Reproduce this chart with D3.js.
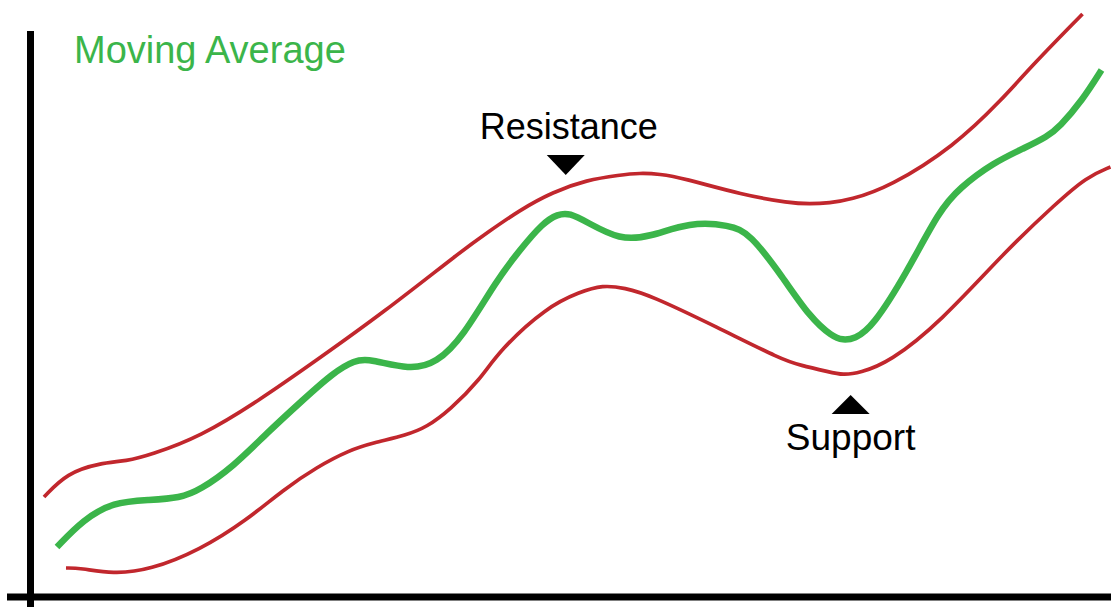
<!DOCTYPE html>
<html>
<head>
<meta charset="utf-8">
<script src="https://cdnjs.cloudflare.com/ajax/libs/d3/7.8.5/d3.min.js"></script>
<style>
  html, body { margin: 0; padding: 0; background: #fff; overflow: hidden; }
  #chart { width: 1111px; height: 607px; }
  text { font-family: Helvetica, "Liberation Sans", Arial, sans-serif; }
</style>
</head>
<body>
<div id="chart"></div>
<script>
// [time, price]
var upperBand = [
  [14, 100], [37, 124], [70, 134], [97, 136], [120, 142], [170, 160], [230, 197],
  [287, 237], [353, 284], [433, 347], [457, 364], [490, 387], [523, 405], [557, 417],
  [590, 422], [610, 424], [630, 423], [653, 419], [713, 402], [760, 394], [780, 393],
  [800, 394], [820, 397], [860, 410], [925, 451], [972, 497], [1003, 532], [1053, 583]
];
var movingAverage = [
  [27, 50], [53, 77], [83, 95], [120, 97], [150, 99], [170, 107], [203, 130],
  [237, 164], [273, 197], [303, 224], [325, 237], [340, 238], [380, 227], [407, 234], [433, 260],
  [467, 317], [490, 347], [513, 374], [528, 383], [540, 384], [557, 375], [590, 357], [620, 360],
  [660, 375], [700, 372], [720, 364], [753, 320], [780, 280], [803, 260], [813, 257], [825, 258],
  [843, 270], [877, 324], [910, 387], [930, 409], [963, 434], [997, 450], [1017, 460],
  [1030, 470], [1053, 497], [1072, 527]
];
var lowerBand = [
  [36, 29], [50, 29], [83, 23], [120, 27], [170, 47], [217, 77], [253, 107],
  [287, 130], [320, 147], [343, 154], [377, 162], [397, 170], [420, 187], [450, 217],
  [470, 247], [517, 290], [550, 305], [573, 312], [595, 309], [620, 302], [687, 270],
  [753, 237], [770, 232], [800, 225], [813, 222], [830, 224], [860, 235], [910, 274],
  [977, 347], [1027, 394], [1057, 420], [1081, 430]
];
var labels = [
  { text: 'Resistance', at: [536, 422], dir: 'down' },
  { text: 'Support', at: [821, 202], dir: 'up' }
];
var title = 'Moving Average';

var width = 1111, height = 607;
var origin = { x: 30.5, y: 597 };

var svg = d3.select('#chart').append('svg')
  .attr('width', width)
  .attr('height', height);

var x = d3.scaleLinear().domain([0, 1081]).range([origin.x - 0.5, 1110.5]);
var y = d3.scaleLinear().domain([0, 597]).range([origin.y, 0]);

var line = d3.line()
  .x(d => x(d[0]))
  .y(d => y(d[1]))
  .curve(d3.curveBasis);

// bands first, green on top
svg.selectAll('path.band')
  .data([upperBand, lowerBand])
  .join('path')
  .attr('class', 'band')
  .attr('d', line)
  .attr('fill', 'none')
  .attr('stroke', '#c1272d')
  .attr('stroke-width', 3.7);

svg.append('path')
  .datum(movingAverage)
  .attr('d', line)
  .attr('fill', 'none')
  .attr('stroke', '#3bb54a')
  .attr('stroke-width', 6.5);

// axes
svg.append('line')
  .attr('x1', origin.x).attr('x2', origin.x)
  .attr('y1', 31).attr('y2', height)
  .attr('stroke', '#000').attr('stroke-width', 7);
svg.append('line')
  .attr('x1', 7).attr('x2', width)
  .attr('y1', origin.y).attr('y2', origin.y)
  .attr('stroke', '#000').attr('stroke-width', 7);

svg.append('text')
  .attr('x', 74).attr('y', 63)
  .attr('fill', '#3bb54a')
  .style('font-size', '38px')
  .text(title);

// annotations: triangle marker + label
labels.forEach(function (l) {
  var cx = x(l.at[0]), cy = y(l.at[1]);
  var g = svg.append('g').attr('transform', 'translate(' + cx + ',' + cy + ')');
  if (l.dir === 'down') {
    g.append('path').attr('d', 'M-19,-20L19,-20L0,0Z').attr('fill', '#000');
    g.append('text').attr('x', 3).attr('y', -36)
      .attr('text-anchor', 'middle').style('font-size', '36px').text(l.text);
  } else {
    g.append('path').attr('d', 'M-19,19L19,19L0,0Z').attr('fill', '#000');
    g.append('text').attr('x', 0).attr('y', 55)
      .attr('text-anchor', 'middle').style('font-size', '37px').text(l.text);
  }
});
</script>
</body>
</html>
